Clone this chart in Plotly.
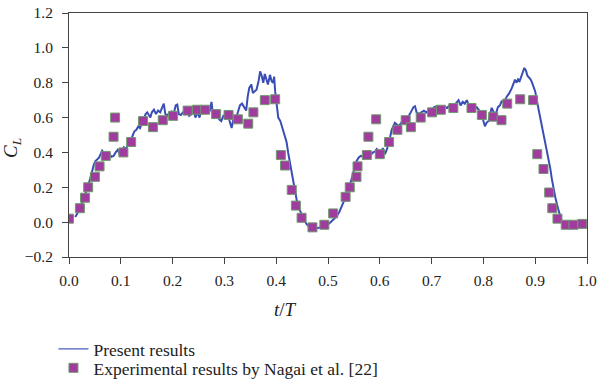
import plotly.graph_objects as go

# Present results (numerical C_L vs t/T)
line_t = [0.012, 0.02, 0.028, 0.033, 0.037, 0.041, 0.044, 0.048, 0.051, 0.055, 0.058, 0.061, 0.064, 0.067,
          0.070, 0.074, 0.078, 0.082, 0.086, 0.090, 0.094, 0.098, 0.102, 0.106, 0.110, 0.114, 0.118, 0.122,
          0.126, 0.130, 0.134, 0.137, 0.141, 0.145, 0.148, 0.151, 0.154, 0.157, 0.160, 0.164, 0.168, 0.172,
          0.176, 0.180, 0.183, 0.186, 0.190, 0.194, 0.198, 0.202, 0.206, 0.209, 0.212, 0.216, 0.220, 0.224,
          0.228, 0.232, 0.236, 0.240, 0.244, 0.248, 0.252, 0.256, 0.260, 0.264, 0.268, 0.272, 0.275, 0.278,
          0.282, 0.286, 0.290, 0.294, 0.298, 0.302, 0.306, 0.310, 0.314, 0.318, 0.322, 0.326, 0.330, 0.334,
          0.338, 0.342, 0.345, 0.348, 0.352, 0.355, 0.358, 0.362, 0.366, 0.369, 0.372, 0.375, 0.378, 0.381,
          0.384, 0.388, 0.391, 0.394, 0.396, 0.398, 0.401, 0.404, 0.408, 0.412, 0.416, 0.420, 0.423, 0.427,
          0.430, 0.433, 0.436, 0.440, 0.444, 0.449, 0.454, 0.459, 0.465, 0.472, 0.480, 0.488, 0.497, 0.505,
          0.512, 0.517, 0.522, 0.526, 0.530, 0.534, 0.538, 0.542, 0.546, 0.549, 0.552, 0.555, 0.559, 0.563,
          0.568, 0.573, 0.578, 0.582, 0.587, 0.591, 0.594, 0.598, 0.602, 0.606, 0.610, 0.614, 0.617, 0.620,
          0.623, 0.626, 0.629, 0.633, 0.637, 0.641, 0.645, 0.650, 0.654, 0.658, 0.662, 0.665, 0.668, 0.671,
          0.675, 0.680, 0.685, 0.690, 0.695, 0.700, 0.705, 0.710, 0.715, 0.720, 0.725, 0.730, 0.736, 0.741,
          0.746, 0.752, 0.756, 0.760, 0.764, 0.768, 0.772, 0.777, 0.782, 0.787, 0.792, 0.797, 0.800, 0.803,
          0.806, 0.810, 0.813, 0.816, 0.820, 0.824, 0.828, 0.832, 0.835, 0.840, 0.845, 0.850, 0.855, 0.858,
          0.861, 0.864, 0.867, 0.870, 0.873, 0.876, 0.879, 0.882, 0.885, 0.888, 0.891, 0.894, 0.897, 0.900,
          0.903, 0.906, 0.909, 0.911, 0.914, 0.916, 0.919, 0.922, 0.926, 0.929, 0.932, 0.935, 0.939, 0.944,
          0.948, 0.951, 0.955, 0.960, 0.965, 0.970, 0.975]
line_cl = [0.03, 0.07, 0.13, 0.17, 0.21, 0.25, 0.29, 0.33, 0.35, 0.36, 0.37, 0.39, 0.41, 0.40,
           0.38, 0.385, 0.39, 0.375, 0.38, 0.40, 0.415, 0.39, 0.41, 0.43, 0.42, 0.45, 0.47, 0.49,
           0.52, 0.53, 0.55, 0.54, 0.57, 0.60, 0.62, 0.63, 0.61, 0.60, 0.63, 0.645, 0.62, 0.64,
           0.63, 0.66, 0.68, 0.62, 0.61, 0.63, 0.635, 0.62, 0.67, 0.675, 0.62, 0.615, 0.63, 0.62,
           0.64, 0.61, 0.62, 0.65, 0.60, 0.63, 0.60, 0.65, 0.62, 0.66, 0.63, 0.64, 0.69, 0.62,
           0.60, 0.63, 0.59, 0.58, 0.61, 0.60, 0.64, 0.58, 0.54, 0.60, 0.59, 0.63, 0.67, 0.68,
           0.66, 0.64, 0.72, 0.77, 0.79, 0.74, 0.75, 0.76, 0.81, 0.865, 0.84, 0.80, 0.85, 0.82,
           0.79, 0.845, 0.81, 0.80, 0.835, 0.75, 0.68, 0.60, 0.58, 0.54, 0.50, 0.46, 0.40, 0.33,
           0.27, 0.22, 0.17, 0.12, 0.08, 0.04, 0.01, -0.013, -0.03, -0.04, -0.035, -0.03, -0.02, 0.0,
           0.02, 0.035, 0.06, 0.085, 0.11, 0.14, 0.17, 0.21, 0.25, 0.28, 0.32, 0.35, 0.37, 0.38,
           0.375, 0.38, 0.39, 0.385, 0.40, 0.405, 0.42, 0.41, 0.40, 0.425, 0.39, 0.42, 0.45, 0.49,
           0.53, 0.55, 0.57, 0.56, 0.55, 0.57, 0.58, 0.59, 0.60, 0.62, 0.64, 0.66, 0.665, 0.63,
           0.62, 0.63, 0.64, 0.63, 0.645, 0.64, 0.66, 0.665, 0.64, 0.65, 0.66, 0.655, 0.675, 0.66,
           0.68, 0.70, 0.67, 0.69, 0.68, 0.70, 0.67, 0.656, 0.65, 0.66, 0.64, 0.627, 0.58, 0.55,
           0.57, 0.58, 0.62, 0.656, 0.63, 0.62, 0.66, 0.67, 0.693, 0.69, 0.72, 0.74, 0.77, 0.80,
           0.818, 0.80, 0.82, 0.81, 0.83, 0.86, 0.885, 0.87, 0.84, 0.83, 0.82, 0.80, 0.78, 0.75,
           0.70, 0.656, 0.61, 0.58, 0.54, 0.50, 0.45, 0.407, 0.36, 0.31, 0.25, 0.197, 0.14, 0.08,
           0.04, 0.006, -0.015, -0.025, -0.025, -0.02, -0.02]

# Experimental results by Nagai et al. [22]
exp_t = [0.000, 0.021, 0.031, 0.037, 0.050, 0.059, 0.071, 0.086, 0.089, 0.105, 0.120, 0.143, 0.162, 0.181,
         0.201, 0.229, 0.247, 0.263, 0.284, 0.308, 0.326, 0.346, 0.356, 0.378, 0.398, 0.409, 0.417, 0.430,
         0.438, 0.449, 0.470, 0.493, 0.510, 0.534, 0.542, 0.555, 0.557, 0.575, 0.578, 0.593, 0.600, 0.618,
         0.634, 0.650, 0.660, 0.679, 0.701, 0.718, 0.742, 0.777, 0.797, 0.819, 0.835, 0.846, 0.871, 0.896,
         0.904, 0.916, 0.927, 0.933, 0.943, 0.959, 0.974, 0.991]
exp_cl = [0.02, 0.08, 0.14, 0.20, 0.26, 0.32, 0.38, 0.49, 0.60, 0.40, 0.46, 0.58, 0.545, 0.585,
          0.61, 0.64, 0.645, 0.645, 0.62, 0.615, 0.59, 0.565, 0.63, 0.70, 0.705, 0.385, 0.325, 0.185,
          0.095, 0.025, -0.03, -0.015, 0.05, 0.145, 0.20, 0.26, 0.32, 0.385, 0.49, 0.59, 0.39, 0.46,
          0.53, 0.585, 0.545, 0.60, 0.63, 0.645, 0.655, 0.655, 0.615, 0.605, 0.585, 0.68, 0.705, 0.70,
          0.39, 0.305, 0.17, 0.08, 0.02, -0.015, -0.015, -0.01]

x_ticks = [0.0, 0.1, 0.2, 0.3, 0.4, 0.5, 0.6, 0.7, 0.8, 0.9, 1.0]
y_ticks = [-0.2, 0.0, 0.2, 0.4, 0.6, 0.8, 1.0, 1.2]

FONT = "Liberation Serif"
TXT = "#222222"
LINE_COLOR = "#3a4db5"

fig = go.Figure()
fig.add_trace(go.Scatter(
    x=line_t, y=line_cl, mode="lines", name="Present results",
    line=dict(color=LINE_COLOR, width=2), showlegend=False,
))
# legend entry for the line (thinner sample, as in the reference)
fig.add_trace(go.Scatter(
    x=[None], y=[None], mode="lines", name="Present results",
    line=dict(color="#4a5cbc", width=1.2), legend="legend",
))
fig.add_trace(go.Scatter(
    x=exp_t, y=exp_cl, mode="markers", name="Experimental results by Nagai et al. [22]",
    marker=dict(symbol="square", size=9, color="#a03c9e",
                line=dict(color="#6e9a6c", width=1)),
    legend="legend2",
))

axis_common = dict(
    showline=True, linecolor="#444", linewidth=1, mirror=True,
    ticks="outside", ticklen=6, tickcolor="#444", tickwidth=1,
    showgrid=False, zeroline=False, automargin=False,
    tickfont=dict(family=FONT, size=15.5, color=TXT),
)

fig.update_xaxes(
    range=[0, 1], tickvals=x_ticks, ticktext=[f"{v:.1f}" for v in x_ticks],
    ticklabelstandoff=3,
    **axis_common,
)
fig.update_yaxes(
    range=[-0.2, 1.2], tickvals=y_ticks,
    ticktext=[("\u2212" if v < 0 else "") + f"{abs(v):.1f}" for v in y_ticks],
    ticklabelstandoff=6,
    **axis_common,
)

legend_common = dict(
    xanchor="left", yanchor="top", orientation="v", bgcolor="rgba(0,0,0,0)",
    font=dict(family=FONT, size=17.5, color=TXT),
)

fig.update_layout(
    width=600, height=390,
    margin=dict(l=69, r=13, t=13, b=133, autoexpand=False),
    paper_bgcolor="white", plot_bgcolor="white",
    font=dict(family=FONT, size=17, color=TXT),
    showlegend=True,
    legend=dict(x=-0.03, y=-0.303, **legend_common),
    legend2=dict(x=-0.03, y=-0.381, **legend_common),
    annotations=[
        dict(text="<i>t</i>/<i>T</i>", xref="paper", yref="paper", x=0.417, y=-0.217,
             xanchor="center", yanchor="middle", showarrow=False,
             font=dict(family=FONT, size=19, color=TXT)),
        dict(text="<i>C</i><sub><i>L</i></sub>", xref="paper", yref="paper", x=-0.110, y=0.447,
             xanchor="center", yanchor="middle", showarrow=False, textangle=-90,
             font=dict(family=FONT, size=19, color=TXT)),
    ],
)

fig.write_html(
    "out.html",
    config={"displayModeBar": False},
    post_script="document.body.style.margin='0';document.body.style.padding='0';"
                "document.body.style.overflow='hidden';",
)
